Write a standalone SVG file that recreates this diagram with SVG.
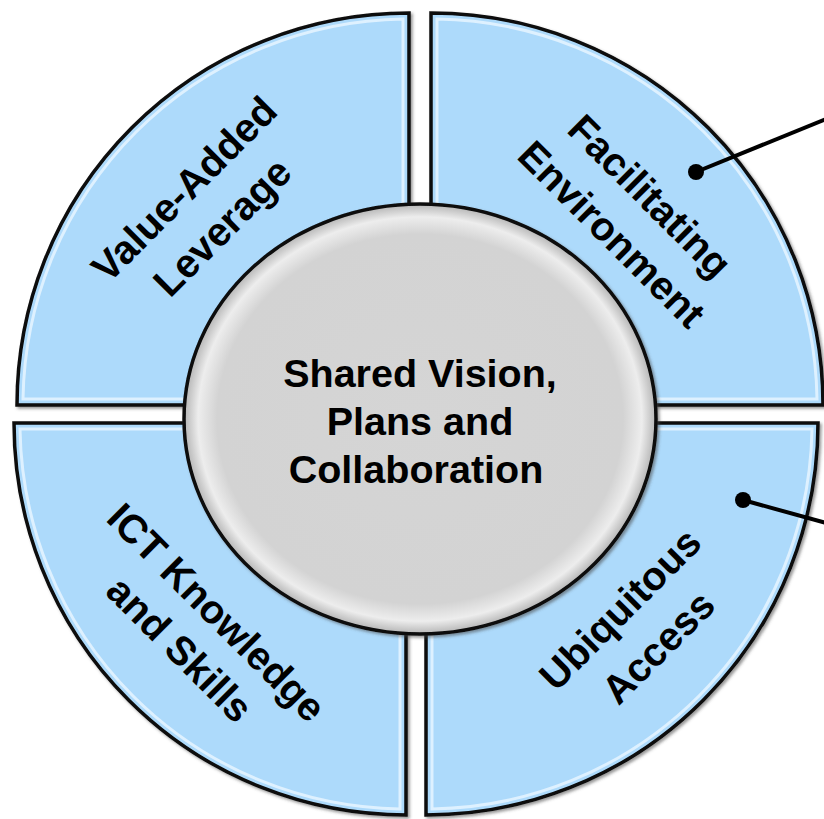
<svg xmlns="http://www.w3.org/2000/svg" width="824" height="819" viewBox="0 0 824 819">
  <defs>
    <filter id="sh" x="-5%" y="-5%" width="112%" height="112%">
      <feDropShadow dx="2" dy="2" stdDeviation="1.5" flood-color="#444" flood-opacity="0.55"/>
    </filter>
    <radialGradient id="hub" cx="50%" cy="50%" r="50%">
      <stop offset="0" stop-color="#D5D5D5"/>
      <stop offset="0.86" stop-color="#D3D3D3"/>
      <stop offset="0.94" stop-color="#EDEDED"/>
      <stop offset="1" stop-color="#B5B5B5"/>
    </radialGradient>
    <style>
      .seg { fill: #ADDAFB; stroke: #0A0A0A; stroke-width: 3.5; stroke-linejoin: miter; }
      .bev { fill: none; stroke: #E6F5FF; stroke-width: 3; stroke-opacity: 0.85; }
      .lbl { font-family: "Liberation Sans", Arial, sans-serif; font-weight: bold; font-size: 40px; fill: #000; text-anchor: middle; }
      .hubtxt { font-family: "Liberation Sans", Arial, sans-serif; font-weight: bold; font-size: 39.5px; fill: #000; text-anchor: middle; }
      .con { stroke: #000; stroke-width: 4; fill: none; }
      .dot { fill: #000; }
    </style>
  </defs>
  <rect width="824" height="819" fill="#FFFFFF"/>

  <g id="value-added-leverage">
    <path class="seg" filter="url(#sh)" d="M409,405 L17,405 A392,392 0 0 1 409,13 Z"/>
    <path class="bev" d="M403,399 L23,399 A386,386 0 0 1 403,19 Z"/>
    <g transform="translate(203,208) rotate(-45)">
      <text class="lbl" x="0" y="-13">Value-Added</text>
      <text class="lbl" x="0" y="41">Leverage</text>
    </g>
  </g>

  <g id="facilitating-environment">
    <path class="seg" filter="url(#sh)" d="M431,405 L431,13 A392,392 0 0 1 823,405 Z"/>
    <path class="bev" d="M437,399 L437,19 A386,386 0 0 1 817,399 Z"/>
    <g transform="translate(631,215) rotate(45)">
      <text class="lbl" x="0" y="-13">Facilitating</text>
      <text class="lbl" x="0" y="41">Environment</text>
    </g>
  </g>

  <g id="ict-knowledge-skills">
    <path class="seg" filter="url(#sh)" d="M406,423 L406,815 A392,392 0 0 1 14,423 Z"/>
    <path class="bev" d="M400,429 L400,809 A386,386 0 0 1 20,429 Z"/>
    <g transform="translate(199,630) rotate(45)">
      <text class="lbl" x="0" y="-11">ICT Knowledge</text>
      <text class="lbl" x="0" y="41">and Skills</text>
    </g>
  </g>

  <g id="ubiquitous-access">
    <path class="seg" filter="url(#sh)" d="M426,423 L818,423 A392,392 0 0 1 426,815 Z"/>
    <path class="bev" d="M432,429 L812,429 A386,386 0 0 1 432,809 Z"/>
    <g transform="translate(639,628) rotate(-45)">
      <text class="lbl" x="0" y="-13">Ubiquitous</text>
      <text class="lbl" x="0" y="41">Access</text>
    </g>
  </g>

  <g id="shared-vision">
    <ellipse cx="420" cy="419" rx="236" ry="215" fill="url(#hub)" stroke="#0A0A0A" stroke-width="3.5" filter="url(#sh)"/>
    <text class="hubtxt" x="420" y="387">Shared Vision,</text>
    <text class="hubtxt" x="420" y="435">Plans and</text>
    <text class="hubtxt" x="416" y="483">Collaboration</text>
  </g>

  <g id="connectors">
    <line class="con" x1="696" y1="172" x2="826" y2="119"/>
    <circle class="dot" cx="696" cy="172" r="8"/>
    <line class="con" x1="743" y1="500" x2="826" y2="523"/>
    <circle class="dot" cx="743" cy="500" r="8"/>
  </g>
</svg>
